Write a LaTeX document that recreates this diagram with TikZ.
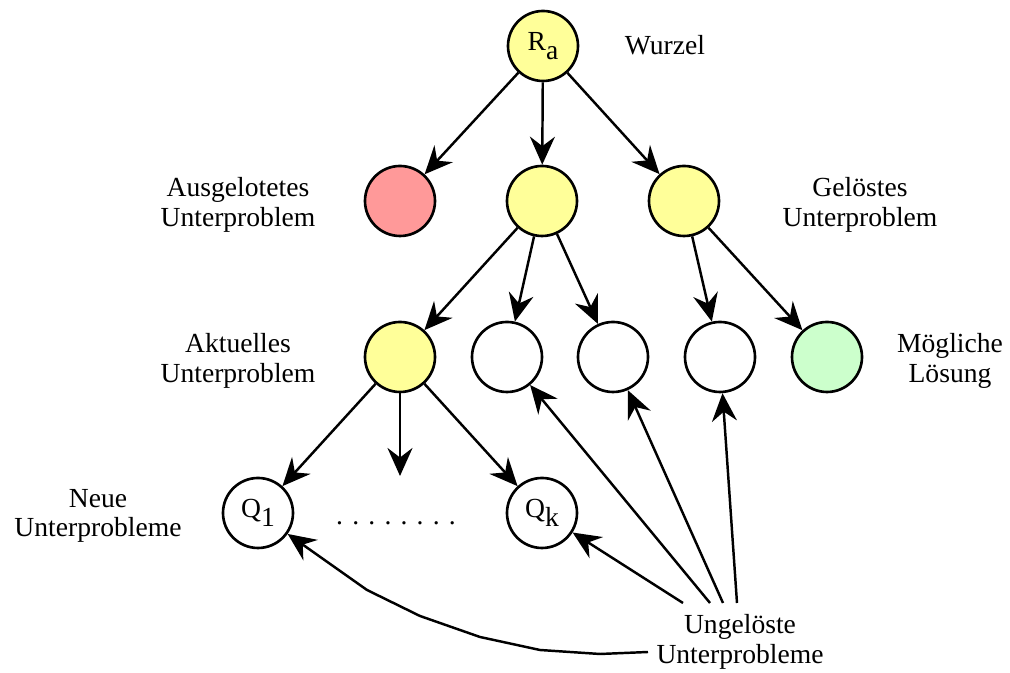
\documentclass[tikz,border=0pt]{standalone}
\usepackage{fontspec}
\setmainfont{Liberation Serif}
\usetikzlibrary{arrows.meta}

\definecolor{gelb}{HTML}{FFFF99}
\definecolor{rot}{HTML}{FF9999}
\definecolor{gruen}{HTML}{CCFFCC}
\newcommand{\tief}[1]{\raisebox{-0.35em}{#1}}

\begin{document}
\begin{tikzpicture}[
    font=\fontsize{15.7}{16.8}\selectfont,
    kreis/.style={circle,draw,line width=1.5pt,minimum size=1.4cm,inner sep=0pt},
    pfeil/.style={-{Stealth[length=5.6mm,width=5mm,inset=1.9mm]},line width=1.4pt},
    beschr/.style={align=center,inner sep=0pt}
]
\useasboundingbox (0,0) rectangle (20.2,13.46);

% Baum
\node[kreis,fill=gelb] (wurzel) at (10.86,12.54) {R\tief{a}};
\node[kreis,fill=rot]  (ausg)   at (8.0,9.44) {};
\node[kreis,fill=gelb] (mitte)  at (10.84,9.44) {};
\node[kreis,fill=gelb] (geloest) at (13.68,9.44) {};

\node[kreis,fill=gelb] (aktuell) at (8.0,6.32) {};
\node[kreis] (offen1) at (10.14,6.32) {};
\node[kreis] (offen2) at (12.26,6.32) {};
\node[kreis] (offen3) at (14.4,6.32) {};
\node[kreis,fill=gruen] (loesung) at (16.54,6.32) {};

\node[kreis] (q1) at (5.16,3.2) {Q\tief{1}};
\node[kreis] (qk) at (10.84,3.2) {Q\tief{k}};
\coordinate (qmitte) at (8.0,3.94);
\node[inner sep=0pt] (punkte) at (7.92,3.0) {. . . . . . . .};

\draw[pfeil] (wurzel) -- (ausg);
\draw[pfeil] (wurzel) -- (mitte);
\draw[pfeil] (wurzel) -- (geloest);
\draw[pfeil] (mitte) -- (aktuell);
\draw[pfeil] (mitte) -- (offen1);
\draw[pfeil] (mitte) -- (offen2);
\draw[pfeil] (geloest) -- (offen3);
\draw[pfeil] (geloest) -- (loesung);
\draw[pfeil] (aktuell) -- (q1);
\draw[pfeil] (aktuell) -- (qmitte);
\draw[pfeil] (aktuell) -- (qk);

% Beschriftungen
\node[beschr] (twurzel) at (13.3,12.56) {Wurzel};
\node[beschr] (tausg) at (4.76,9.36) {Ausgelotetes\\Unterproblem};
\node[beschr] (tgeloest) at (17.2,9.36) {Gelöstes\\Unterproblem};
\node[beschr] (taktuell) at (4.76,6.24) {Aktuelles\\Unterproblem};
\node[beschr] (tloesung) at (19.0,6.24) {Mögliche\\Lösung};
\node[beschr] (tneu) at (1.96,3.14) {Neue\\Unterprobleme};
\node[beschr] (toffen) at (14.8,0.62) {Ungelöste\\Unterprobleme};

% Pfeile der ungelösten Unterprobleme
\coordinate (u0) at (12.96,0.42);
\coordinate (u1) at (13.66,1.4);
\coordinate (u2) at (14.2,1.4);
\coordinate (u3) at (14.46,1.4);
\coordinate (u4) at (14.74,1.4);
\draw[pfeil] (u0) -- (12.0,0.38) -- (10.8,0.46) -- (9.6,0.72) -- (8.4,1.14) -- (7.34,1.66) -- (q1);
\draw[pfeil] (u1) -- (qk);
\draw[pfeil] (u2) -- (offen1);
\draw[pfeil] (u3) -- (offen2);
\draw[pfeil] (u4) -- (offen3);

\end{tikzpicture}
\end{document}
